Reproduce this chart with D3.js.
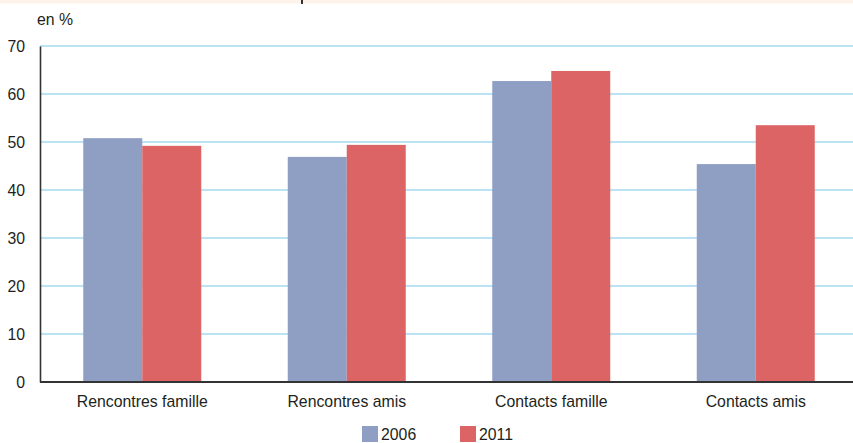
<!DOCTYPE html>
<html><head><meta charset="utf-8">
<script src="https://cdn.jsdelivr.net/npm/d3@7"></script>
<style>
html,body{margin:0;padding:0;background:#fff;}
svg{display:block;font-family:"Liberation Sans",Arial,sans-serif;}
</style></head>
<body>
<svg id="chart" width="853" height="443"></svg>
<script>
const categories = ["Rencontres famille", "Rencontres amis", "Contacts famille", "Contacts amis"];
const seriesNames = ["2006", "2011"];
const values2006 = [50.8, 46.9, 62.7, 45.4];
const values2011 = [49.2, 49.4, 64.8, 53.5];
const yTicks = [0, 10, 20, 30, 40, 50, 60, 70];
const unitLabel = "en %";
const colors = ["#8f9ec3", "#dc6465"];

const FONT = "'Liberation Sans', Arial, sans-serif";
const FS = 17;
const SQUEEZE = 0.93;

function narrow(sel) {
  sel.attr("font-size", FS).attr("fill", "#231f20").attr("font-family", FONT)
    .each(function() {
      const len = this.getComputedTextLength();
      d3.select(this).attr("textLength", len * SQUEEZE).attr("lengthAdjust", "spacingAndGlyphs");
    });
}

const svg = d3.select("#chart");
const W = 853, H = 443;
const margin = {left: 40, top: 46, right: -5, bottom: 61};

// faint header strip (cropped title area)
svg.append("rect").attr("x", 0).attr("y", 0).attr("width", W).attr("height", 3.5).attr("fill", "#fdf3ea");
svg.append("rect").attr("x", 301).attr("y", 0).attr("width", 2).attr("height", 4).attr("fill", "#333");

const x = d3.scaleBand().domain(categories).range([margin.left, W - margin.right]).paddingInner(0.423).paddingOuter(0.2115);
const xs = d3.scaleBand().domain(seriesNames).range([0, x.bandwidth()]);
const y = d3.scaleLinear().domain([0, 70]).range([H - margin.bottom, margin.top]);

// gridlines
svg.append("g").selectAll("line").data(yTicks.filter(d => d > 0)).join("line")
  .attr("x1", margin.left).attr("x2", W)
  .attr("y1", d => y(d)).attr("y2", d => y(d))
  .attr("stroke", "#a6d8f2").attr("stroke-width", 1.4);

// bars
const data = categories.map((c, i) => ({cat: c, vals: [values2006[i], values2011[i]]}));
const g = svg.append("g").selectAll("g").data(data).join("g")
  .attr("transform", d => `translate(${x(d.cat)},0)`);
g.selectAll("rect").data(d => d.vals.map((v, j) => ({s: seriesNames[j], v, j}))).join("rect")
  .attr("x", d => xs(d.s)).attr("width", xs.bandwidth())
  .attr("y", d => y(d.v)).attr("height", d => y(0) - y(d.v))
  .attr("fill", d => colors[d.j]);

// y axis
const yAxis = d3.axisLeft(y).tickValues(yTicks).tickSize(0).tickPadding(15);
const ya = svg.append("g").attr("transform", `translate(${margin.left},0)`).call(yAxis);
ya.select(".domain").attr("stroke", "#333").attr("stroke-width", 1.6);
narrow(ya.selectAll("text"));

// x axis
const xAxis = d3.axisBottom(x).tickSize(0).tickPadding(13);
const xa = svg.append("g").attr("transform", `translate(0,${y(0)})`).call(xAxis);
xa.select(".domain").attr("d", `M${margin.left},0H${W}`).attr("stroke", "#333").attr("stroke-width", 1.8);
narrow(xa.selectAll("text"));

// unit label
narrow(svg.append("text").attr("x", 37).attr("y", 25).text(unitLabel));

// legend
const legendX = [362, 460];
const lg = svg.append("g").selectAll("g").data(seriesNames).join("g")
  .attr("transform", (d, i) => `translate(${legendX[i]},426)`);
lg.append("rect").attr("width", 16).attr("height", 16).attr("fill", (d, i) => colors[i]);
narrow(lg.append("text").attr("x", 19).attr("y", 14).text(d => d));
</script>
</body></html>
